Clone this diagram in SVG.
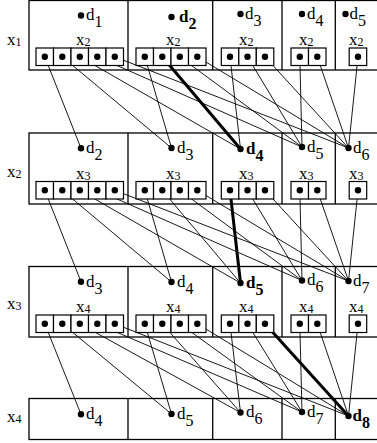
<svg xmlns="http://www.w3.org/2000/svg" width="377" height="443" viewBox="0 0 377 443">
<style>
.row{fill:#fff;stroke:#000;stroke-width:1.3}
.div{stroke:#000;stroke-width:1.3}
.bx{fill:#fff;stroke:#000;stroke-width:1.2}
.dot{fill:#000}
.d{font-family:"Liberation Serif",serif;font-size:17px;fill:#000}
.b{font-weight:bold}
.sub{font-size:16px}
.xl{font-family:"Liberation Serif",serif;font-size:17px;fill:#000}
.xs{font-size:12px}
.ln{stroke:#000;stroke-width:0.9;fill:none}
.bl{stroke:#000;stroke-width:3;fill:none}
</style>
<g id="frames">
<rect class="row" x="29" y="0.5" width="352" height="69.5"/>
<rect class="row" x="29" y="133" width="352" height="71"/>
<rect class="row" x="29" y="266.5" width="352" height="70.5"/>
<rect class="row" x="29" y="398.5" width="352" height="41"/>
<path class="div" d="M128,0.5V70M212.7,0.5V70M282,0.5V70M335.3,0.5V70M128,133V204M212.7,133V204M282,133V204M335.3,133V204M128,266.5V337M212.7,266.5V337M282,266.5V337M335.3,266.5V337M128,398.5V439.5M212.7,398.5V439.5M282,398.5V439.5M335.3,398.5V439.5"/>
</g>
<g id="rowlabels">
<text class="xl" x="7" y="45">x<tspan class="xs" dy="1">1</tspan></text>
<text class="xl" x="7" y="177">x<tspan class="xs" dy="1">2</tspan></text>
<text class="xl" x="7" y="309">x<tspan class="xs" dy="1">3</tspan></text>
<text class="xl" x="7" y="422">x<tspan class="xs" dy="1">4</tspan></text>
</g>
<g id="connectors">
<path class="ln" d="M44.8,56.8L81,148.3M62.3,56.8L171.5,148M79.8,56.8L240.5,149M97.3,56.8L302,147M114.8,56.8L348.5,148M144.8,56.8L171.5,148M179.8,56.8L302,147M197.3,56.8L348.5,148M230,56.8L240.5,149M247.5,56.8L302,147M265,56.8L348.5,148M299.8,56.8L302,147M317.3,56.8L348.5,148M358,56.8L348.5,148"/>
<path class="ln" d="M44.8,190.3L81,281.7M62.3,190.3L171.5,282M79.8,190.3L240.5,283M97.3,190.3L302,280.5M114.8,190.3L348.5,281M144.8,190.3L171.5,282M162.3,190.3L240.5,283M179.8,190.3L302,280.5M197.3,190.3L348.5,281M247.5,190.3L302,280.5M265,190.3L348.5,281M299.8,190.3L302,280.5M317.3,190.3L348.5,281M358,190.3L348.5,281"/>
<path class="ln" d="M44.8,323.8L81,414.3M62.3,323.8L171.5,414M79.8,323.8L240.5,412.5M97.3,323.8L302,412M114.8,323.8L348.5,416M144.8,323.8L171.5,414M162.3,323.8L240.5,412.5M179.8,323.8L302,412M197.3,323.8L348.5,416M230,323.8L240.5,412.5M247.5,323.8L302,412M299.8,323.8L302,412M317.3,323.8L348.5,416M358,323.8L348.5,416"/>
<path class="bl" d="M162.3,56.8L240.5,149M230,190.3L240.5,283M265,323.8L348.5,416"/>
</g>
<g id="row1">
<g id="x1d1"><circle class="dot" cx="81" cy="15.5" r="3.2"/><text class="d" x="86" y="20">d<tspan class="sub" dy="7">1</tspan></text>
<rect class="bx" x="36" y="48" width="17.5" height="17.5"/><rect class="bx" x="53.5" y="48" width="17.5" height="17.5"/><rect class="bx" x="71" y="48" width="17.5" height="17.5"/><rect class="bx" x="88.5" y="48" width="17.5" height="17.5"/><rect class="bx" x="106" y="48" width="17.5" height="17.5"/>
<circle class="dot" cx="44.8" cy="56.8" r="3.2"/><circle class="dot" cx="62.3" cy="56.8" r="3.2"/><circle class="dot" cx="79.8" cy="56.8" r="3.2"/><circle class="dot" cx="97.3" cy="56.8" r="3.2"/><circle class="dot" cx="114.8" cy="56.8" r="3.2"/>
<text class="xl" x="76" y="45">x<tspan class="xs" dy="1">2</tspan></text></g>
<g id="x1d2"><circle class="dot" cx="171.5" cy="17" r="3.2"/><text class="d b" x="179" y="21.5">d<tspan class="sub" dy="7">2</tspan></text>
<rect class="bx" x="136" y="48" width="17.5" height="17.5"/><rect class="bx" x="153.5" y="48" width="17.5" height="17.5"/><rect class="bx" x="171" y="48" width="17.5" height="17.5"/><rect class="bx" x="188.5" y="48" width="17.5" height="17.5"/>
<circle class="dot" cx="144.8" cy="56.8" r="3.2"/><circle class="dot" cx="162.3" cy="56.8" r="3.2"/><circle class="dot" cx="179.8" cy="56.8" r="3.2"/><circle class="dot" cx="197.3" cy="56.8" r="3.2"/>
<text class="xl" x="166" y="45">x<tspan class="xs" dy="1">2</tspan></text></g>
<g id="x1d3"><circle class="dot" cx="240.5" cy="14" r="3.2"/><text class="d" x="245" y="18.5">d<tspan class="sub" dy="7">3</tspan></text>
<rect class="bx" x="221.3" y="48" width="17.5" height="17.5"/><rect class="bx" x="238.8" y="48" width="17.5" height="17.5"/><rect class="bx" x="256.3" y="48" width="17.5" height="17.5"/>
<circle class="dot" cx="230" cy="56.8" r="3.2"/><circle class="dot" cx="247.5" cy="56.8" r="3.2"/><circle class="dot" cx="265" cy="56.8" r="3.2"/>
<text class="xl" x="239" y="45">x<tspan class="xs" dy="1">2</tspan></text></g>
<g id="x1d4"><circle class="dot" cx="302" cy="14" r="3.2"/><text class="d" x="307" y="18.5">d<tspan class="sub" dy="7">4</tspan></text>
<rect class="bx" x="291" y="48" width="17.5" height="17.5"/><rect class="bx" x="308.5" y="48" width="17.5" height="17.5"/>
<circle class="dot" cx="299.8" cy="56.8" r="3.2"/><circle class="dot" cx="317.3" cy="56.8" r="3.2"/>
<text class="xl" x="299" y="45">x<tspan class="xs" dy="1">2</tspan></text></g>
<g id="x1d5"><circle class="dot" cx="345.5" cy="14" r="3.2"/><text class="d" x="349.5" y="18.5">d<tspan class="sub" dy="7">5</tspan></text>
<rect class="bx" x="349.2" y="48" width="17.5" height="17.5"/>
<circle class="dot" cx="358" cy="56.8" r="3.2"/>
<text class="xl" x="349" y="45">x<tspan class="xs" dy="1">2</tspan></text></g>
</g>
<g id="row2">
<g id="x2d2"><circle class="dot" cx="81" cy="148.3" r="3.2"/><text class="d" x="86" y="153">d<tspan class="sub" dy="7">2</tspan></text>
<rect class="bx" x="36" y="181.5" width="17.5" height="17.5"/><rect class="bx" x="53.5" y="181.5" width="17.5" height="17.5"/><rect class="bx" x="71" y="181.5" width="17.5" height="17.5"/><rect class="bx" x="88.5" y="181.5" width="17.5" height="17.5"/><rect class="bx" x="106" y="181.5" width="17.5" height="17.5"/>
<circle class="dot" cx="44.8" cy="190.3" r="3.2"/><circle class="dot" cx="62.3" cy="190.3" r="3.2"/><circle class="dot" cx="79.8" cy="190.3" r="3.2"/><circle class="dot" cx="97.3" cy="190.3" r="3.2"/><circle class="dot" cx="114.8" cy="190.3" r="3.2"/>
<text class="xl" x="76" y="178.5">x<tspan class="xs" dy="1">3</tspan></text></g>
<g id="x2d3"><circle class="dot" cx="171.5" cy="148" r="3.2"/><text class="d" x="177" y="152.5">d<tspan class="sub" dy="7">3</tspan></text>
<rect class="bx" x="136" y="181.5" width="17.5" height="17.5"/><rect class="bx" x="153.5" y="181.5" width="17.5" height="17.5"/><rect class="bx" x="171" y="181.5" width="17.5" height="17.5"/><rect class="bx" x="188.5" y="181.5" width="17.5" height="17.5"/>
<circle class="dot" cx="144.8" cy="190.3" r="3.2"/><circle class="dot" cx="162.3" cy="190.3" r="3.2"/><circle class="dot" cx="179.8" cy="190.3" r="3.2"/><circle class="dot" cx="197.3" cy="190.3" r="3.2"/>
<text class="xl" x="166" y="178.5">x<tspan class="xs" dy="1">3</tspan></text></g>
<g id="x2d4"><circle class="dot" cx="240.5" cy="149" r="3.2"/><text class="d b" x="246" y="153.5">d<tspan class="sub" dy="7">4</tspan></text>
<rect class="bx" x="221.3" y="181.5" width="17.5" height="17.5"/><rect class="bx" x="238.8" y="181.5" width="17.5" height="17.5"/><rect class="bx" x="256.3" y="181.5" width="17.5" height="17.5"/>
<circle class="dot" cx="230" cy="190.3" r="3.2"/><circle class="dot" cx="247.5" cy="190.3" r="3.2"/><circle class="dot" cx="265" cy="190.3" r="3.2"/>
<text class="xl" x="239" y="178.5">x<tspan class="xs" dy="1">3</tspan></text></g>
<g id="x2d5"><circle class="dot" cx="302" cy="147" r="3.2"/><text class="d" x="307" y="151.5">d<tspan class="sub" dy="7">5</tspan></text>
<rect class="bx" x="291" y="181.5" width="17.5" height="17.5"/><rect class="bx" x="308.5" y="181.5" width="17.5" height="17.5"/>
<circle class="dot" cx="299.8" cy="190.3" r="3.2"/><circle class="dot" cx="317.3" cy="190.3" r="3.2"/>
<text class="xl" x="299" y="178.5">x<tspan class="xs" dy="1">3</tspan></text></g>
<g id="x2d6"><circle class="dot" cx="348.5" cy="148" r="3.2"/><text class="d" x="353" y="152.5">d<tspan class="sub" dy="7">6</tspan></text>
<rect class="bx" x="349.2" y="181.5" width="17.5" height="17.5"/>
<circle class="dot" cx="358" cy="190.3" r="3.2"/>
<text class="xl" x="349" y="178.5">x<tspan class="xs" dy="1">3</tspan></text></g>
</g>
<g id="row3">
<g id="x3d3"><circle class="dot" cx="81" cy="281.7" r="3.2"/><text class="d" x="86" y="286.5">d<tspan class="sub" dy="7">3</tspan></text>
<rect class="bx" x="36" y="315" width="17.5" height="17.5"/><rect class="bx" x="53.5" y="315" width="17.5" height="17.5"/><rect class="bx" x="71" y="315" width="17.5" height="17.5"/><rect class="bx" x="88.5" y="315" width="17.5" height="17.5"/><rect class="bx" x="106" y="315" width="17.5" height="17.5"/>
<circle class="dot" cx="44.8" cy="323.8" r="3.2"/><circle class="dot" cx="62.3" cy="323.8" r="3.2"/><circle class="dot" cx="79.8" cy="323.8" r="3.2"/><circle class="dot" cx="97.3" cy="323.8" r="3.2"/><circle class="dot" cx="114.8" cy="323.8" r="3.2"/>
<text class="xl" x="76" y="312">x<tspan class="xs" dy="1">4</tspan></text></g>
<g id="x3d4"><circle class="dot" cx="171.5" cy="282" r="3.2"/><text class="d" x="177" y="286.5">d<tspan class="sub" dy="7">4</tspan></text>
<rect class="bx" x="136" y="315" width="17.5" height="17.5"/><rect class="bx" x="153.5" y="315" width="17.5" height="17.5"/><rect class="bx" x="171" y="315" width="17.5" height="17.5"/><rect class="bx" x="188.5" y="315" width="17.5" height="17.5"/>
<circle class="dot" cx="144.8" cy="323.8" r="3.2"/><circle class="dot" cx="162.3" cy="323.8" r="3.2"/><circle class="dot" cx="179.8" cy="323.8" r="3.2"/><circle class="dot" cx="197.3" cy="323.8" r="3.2"/>
<text class="xl" x="166" y="312">x<tspan class="xs" dy="1">4</tspan></text></g>
<g id="x3d5"><circle class="dot" cx="240.5" cy="283" r="3.2"/><text class="d b" x="246" y="287.5">d<tspan class="sub" dy="7">5</tspan></text>
<rect class="bx" x="221.3" y="315" width="17.5" height="17.5"/><rect class="bx" x="238.8" y="315" width="17.5" height="17.5"/><rect class="bx" x="256.3" y="315" width="17.5" height="17.5"/>
<circle class="dot" cx="230" cy="323.8" r="3.2"/><circle class="dot" cx="247.5" cy="323.8" r="3.2"/><circle class="dot" cx="265" cy="323.8" r="3.2"/>
<text class="xl" x="239" y="312">x<tspan class="xs" dy="1">4</tspan></text></g>
<g id="x3d6"><circle class="dot" cx="302" cy="280.5" r="3.2"/><text class="d" x="307" y="285">d<tspan class="sub" dy="7">6</tspan></text>
<rect class="bx" x="291" y="315" width="17.5" height="17.5"/><rect class="bx" x="308.5" y="315" width="17.5" height="17.5"/>
<circle class="dot" cx="299.8" cy="323.8" r="3.2"/><circle class="dot" cx="317.3" cy="323.8" r="3.2"/>
<text class="xl" x="299" y="312">x<tspan class="xs" dy="1">4</tspan></text></g>
<g id="x3d7"><circle class="dot" cx="348.5" cy="281" r="3.2"/><text class="d" x="353" y="285.5">d<tspan class="sub" dy="7">7</tspan></text>
<rect class="bx" x="349.2" y="315" width="17.5" height="17.5"/>
<circle class="dot" cx="358" cy="323.8" r="3.2"/>
<text class="xl" x="349" y="312">x<tspan class="xs" dy="1">4</tspan></text></g>
</g>
<g id="row4">
<g id="x4d4"><circle class="dot" cx="81" cy="414.3" r="3.2"/><text class="d" x="86" y="419">d<tspan class="sub" dy="7">4</tspan></text></g>
<g id="x4d5"><circle class="dot" cx="171.5" cy="414" r="3.2"/><text class="d" x="177" y="418.5">d<tspan class="sub" dy="7">5</tspan></text></g>
<g id="x4d6"><circle class="dot" cx="240.5" cy="412.5" r="3.2"/><text class="d" x="246" y="417">d<tspan class="sub" dy="7">6</tspan></text></g>
<g id="x4d7"><circle class="dot" cx="302" cy="412" r="3.2"/><text class="d" x="307" y="416.5">d<tspan class="sub" dy="7">7</tspan></text></g>
<g id="x4d8"><circle class="dot" cx="348.5" cy="416" r="3.2"/><text class="d b" x="352.5" y="420.5">d<tspan class="sub" dy="7">8</tspan></text></g>
</g>
</svg>
